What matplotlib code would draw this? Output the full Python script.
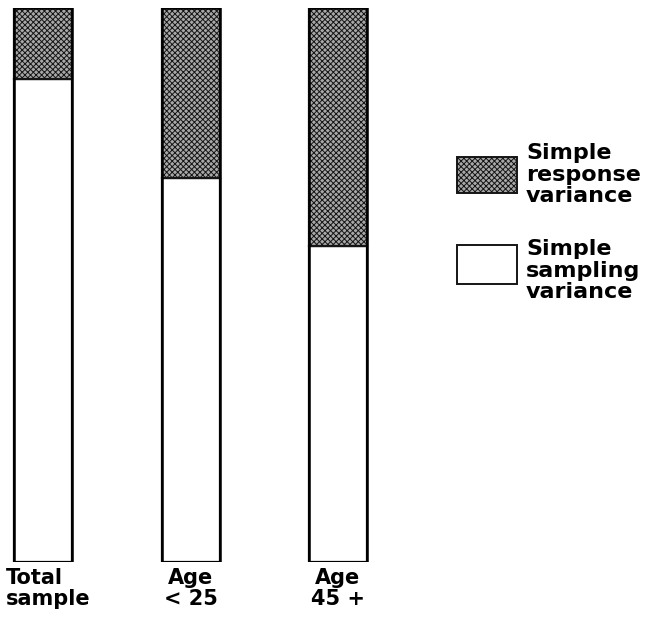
import matplotlib
matplotlib.use("Agg")
import matplotlib.pyplot as plt
from matplotlib.patches import Rectangle

# ── data (share of total variance) ───────────────────────────
categories = ["Total\nsample", "Age\n< 25", "Age\n45 +"]
sampling_share = [0.872, 0.693, 0.570]
response_share = [0.128, 0.307, 0.430]
legend_labels = ["Simple\nresponse\nvariance", "Simple\nsampling\nvariance"]

W, H = 646, 621
fig = plt.figure(figsize=(W / 100, H / 100), dpi=100)
plt.rcParams["hatch.linewidth"] = 0.7


def fx(x):
    return x / W


def fy(y):
    return 1 - y / H


# bars live in an axes spanning pixel rows 8..562
ax = fig.add_axes([0, fy(562), 1, fy(8) - fy(562)])
ax.set_xlim(0, W)
ax.set_ylim(0, 1)
ax.axis("off")

centers = [42.5, 191, 338]
bar_w = 58
HATCH = "xxxxxx"
HFILL = "#a8a8a8"
HLINE = "#151515"

ax.bar(centers, sampling_share, width=bar_w, color="white",
       edgecolor="black", linewidth=1.6)
ax.bar(centers, response_share, bottom=sampling_share, width=bar_w,
       color=HFILL, edgecolor=HLINE, hatch=HATCH, linewidth=1.6)
for c in centers:
    ax.add_patch(Rectangle((c - bar_w / 2, 0), bar_w, 1, fill=False,
                           edgecolor="black", linewidth=1.8))

offsets = [6, 0, 0]
aligns = ["left", "center", "center"]
for c, lab, off, al in zip(centers, categories, offsets, aligns):
    fig.text(fx(c + off), fy(568), lab, ha="center", va="top",
             multialignment=al, fontsize=15, fontweight="bold",
             family="DejaVu Sans", linespacing=1.05)

# ── legend ───────────────────────────────────────────────────
boxes = [(157, 193, HATCH), (245, 284, None)]
text_tops = [143, 239]
fills = [HFILL, "white"]
for (y0, y1, h), ty, lab, fc in zip(boxes, text_tops, legend_labels, fills):
    r = Rectangle((fx(457), fy(y1)), fx(517) - fx(457), fy(y0) - fy(y1),
                  transform=fig.transFigure, facecolor=fc,
                  edgecolor=HLINE, hatch=h, linewidth=1.4)
    fig.patches.append(r)
    fig.text(fx(526), fy(ty), lab, ha="left", va="top", fontsize=16,
             fontweight="bold", family="DejaVu Sans", linespacing=1.1)

fig.savefig("out.png", dpi=100, facecolor="white")
